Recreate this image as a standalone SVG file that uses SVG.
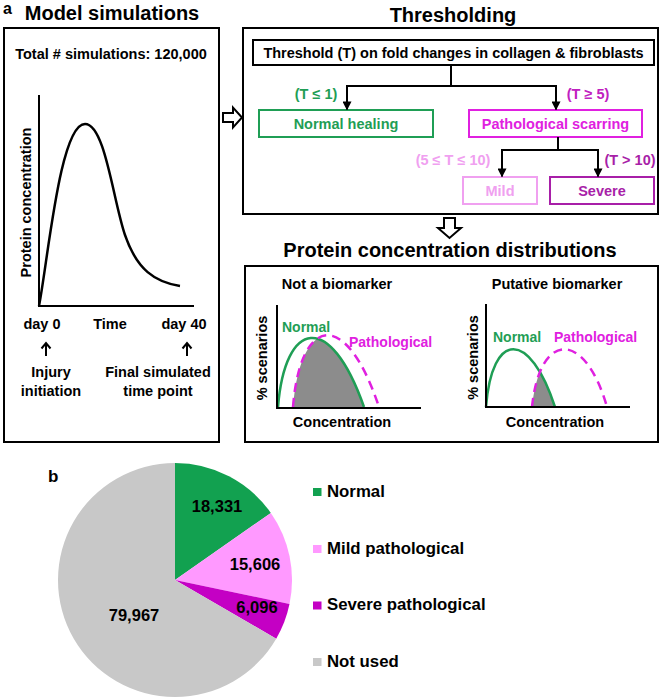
<svg xmlns="http://www.w3.org/2000/svg" width="661" height="699" viewBox="0 0 661 699">
<style>
text{font-family:"Liberation Sans",Arial,sans-serif;font-weight:bold;fill:#000}
.t{font-size:20px;text-anchor:middle}
.s{font-size:14.5px;text-anchor:middle}
.c{font-size:14px}
.pl{font-size:16.5px;text-anchor:middle}
.lg{font-size:16.8px}
.box{fill:none;stroke:#000;stroke-width:2}
.ln{fill:none;stroke:#000;stroke-width:2}
.ar{fill:none;stroke:#000;stroke-width:2;marker-end:url(#ah)}
.hol{fill:#fff;stroke:#000;stroke-width:2;stroke-linejoin:miter}
.grn{fill:none;stroke:#1f9e55;stroke-width:2.5}
.mag{fill:none;stroke:#e020e0;stroke-width:2.5;stroke-dasharray:9 6}
</style>
<defs>
<marker id="ah" viewBox="0 0 10 10" refX="9" refY="5" markerWidth="4.5" markerHeight="4.5" orient="auto" markerUnits="strokeWidth">
<path d="M0,0 L10,5 L0,10 Z" fill="#000"/>
</marker>
<clipPath id="cg1"><path d="M278,407 C285,320 330,310 364,407 Z"/></clipPath>
<clipPath id="cg2"><path d="M486,407 C492,330 530,330 555,407 Z"/></clipPath>
</defs>

<!-- Panel labels -->
<text x="3" y="14" style="font-size:16px">a</text>
<text x="48" y="482" style="font-size:17px">b</text>

<!-- Model simulations -->
<g id="model-simulations">
<text class="t" x="112" y="20">Model simulations</text>
<rect class="box" x="4" y="28" width="215" height="414"/>
<text class="s" x="111" y="58.5">Total # simulations: 120,000</text>
<path class="ln" d="M39,95 L39,306 L194,306"/>
<path d="M39,306 C48,260 60,124 85,124 C105,124 113,200 125,235 C137,270 155,282 180,286" fill="none" stroke="#000" stroke-width="2.5"/>
<text class="s" transform="translate(31,202.5) rotate(-90)" x="0" y="0">Protein concentration</text>
<text class="s" x="42" y="329">day 0</text>
<text class="s" x="110" y="329">Time</text>
<text class="s" x="184" y="329">day 40</text>
<path class="ln" d="M46,356 L46,343 M41.5,348.5 L46,343 L50.5,348.5" stroke-width="1.8"/>
<path class="ln" d="M187,356 L187,343 M182.5,348.5 L187,343 L191.5,348.5" stroke-width="1.8"/>
<text class="s" x="51" y="377">Injury</text>
<text class="s" x="51" y="395.5">initiation</text>
<text class="s" x="158" y="377">Final simulated</text>
<text class="s" x="158" y="395.5">time point</text>
</g>

<!-- hollow arrows -->
<g id="hollow-arrows">
<path class="hol" d="M223,113 L233,113 L233,107.5 L242,117.5 L233,127.5 L233,122 L223,122 Z"/>
<path class="hol" d="M444,218 L455,218 L455,228 L461,228 L449.5,238 L438,228 L444,228 Z"/>
</g>

<!-- Thresholding -->
<g id="thresholding">
<text class="t" x="453" y="21.5">Thresholding</text>
<rect class="box" x="243" y="28" width="415" height="186"/>
</g>
<g id="threshold-node">
<rect class="box" x="253" y="40" width="401" height="25"/>
<text class="s" x="453.5" y="57.5">Threshold (T) on fold changes in collagen &amp; fibroblasts</text>
</g>
<g id="normal-healing">
<rect x="259" y="110" width="174" height="27" fill="none" stroke="#1f9e55" stroke-width="2"/>
<text class="s" x="346" y="129" style="fill:#1f9e55">Normal healing</text>
</g>
<g id="pathological-scarring">
<rect x="469" y="110" width="173" height="27" fill="none" stroke="#e020e0" stroke-width="2"/>
<text class="s" x="555.5" y="129" style="fill:#e020e0">Pathological scarring</text>
</g>
<g id="mild">
<rect x="463" y="177" width="74" height="27" fill="none" stroke="#f0a0f0" stroke-width="2"/>
<text class="s" x="500" y="196" style="fill:#f0a0f0">Mild</text>
</g>
<g id="severe">
<rect x="550" y="177" width="104" height="27" fill="none" stroke="#a81fa8" stroke-width="2"/>
<text class="s" x="602" y="196" style="fill:#a81fa8">Severe</text>
</g>
<g id="connectors">
<path class="ln" d="M451,65 L451,86 M347,86 L556,86"/>
<path class="ar" d="M347,85 L347,109.5"/>
<path class="ar" d="M556,85 L556,109.5"/>
<path class="ln" d="M558,137 L558,150 M502,150 L598,150"/>
<path class="ar" d="M502,149 L502,176.5"/>
<path class="ar" d="M598,149 L598,176.5"/>
</g>
<g id="connector-labels">
<text class="s" x="316" y="98.5" style="fill:#1f9e55">(T ≤ 1)</text>
<text class="s" x="588" y="98.5" style="fill:#c020c0">(T ≥ 5)</text>
<text class="s" x="453" y="165" style="fill:#f0a0f0">(5 ≤ T ≤ 10)</text>
<text class="s" x="630" y="165" style="fill:#a81fa8">(T &gt; 10)</text>
</g>

<!-- Protein concentration distributions -->
<g id="distributions">
<text class="t" x="450" y="257">Protein concentration distributions</text>
<rect class="box" x="245" y="266" width="413" height="176"/>
</g>
<g id="not-a-biomarker">
<text class="s" x="337" y="288.5">Not a biomarker</text>
<path d="M293,407 C300,318 345,305 379,407 Z" fill="#8c8c8c" clip-path="url(#cg1)"/>
<path class="grn" d="M278,407 C285,320 330,310 364,407"/>
<path class="mag" d="M293,407 C300,318 345,305 379,407"/>
<path class="ln" d="M277,305 L277,408 L421,408"/>
<text class="s" transform="translate(266.5,358) rotate(-90)" x="0" y="0">% scenarios</text>
<text class="c" x="282" y="332" style="fill:#1f9e55">Normal</text>
<text class="c" x="349" y="347" style="fill:#e020e0">Pathological</text>
<text class="s" x="342" y="427">Concentration</text>
</g>
<g id="putative-biomarker">
<text class="s" x="557" y="288.5">Putative biomarker</text>
<path d="M532,407 C540,330 585,330 607,407 Z" fill="#8c8c8c" clip-path="url(#cg2)"/>
<path class="grn" d="M486,407 C492,330 530,330 555,407"/>
<path class="mag" d="M532,407 C540,330 585,330 607,407"/>
<path class="ln" d="M486,304 L486,407 L630,407"/>
<text class="s" transform="translate(478,357.5) rotate(-90)" x="0" y="0">% scenarios</text>
<text class="c" x="493" y="342" style="fill:#1f9e55">Normal</text>
<text class="c" x="554" y="342" style="fill:#e020e0">Pathological</text>
<text class="s" x="555" y="427">Concentration</text>
</g>

<!-- Pie chart -->
<g id="pie-normal">
<path d="M175,580 L175,463 A117,117 0 0,1 270.84,512.88 Z" fill="#12a150"/>
<text class="pl" x="217" y="512">18,331</text>
</g>
<g id="pie-mild">
<path d="M175,580 L270.84,512.88 A117,117 0 0,1 289.52,603.95 Z" fill="#ff99ff"/>
<text class="pl" x="255" y="570">15,606</text>
</g>
<g id="pie-severe">
<path d="M175,580 L289.52,603.95 A117,117 0 0,1 276.22,638.68 Z" fill="#c400c4"/>
<text class="pl" x="257" y="613">6,096</text>
</g>
<g id="pie-notused">
<path d="M175,580 L276.22,638.68 A117,117 0 1,1 175,463 Z" fill="#c8c8c8"/>
<text class="pl" x="134" y="621">79,967</text>
</g>

<!-- Legend -->
<g id="legend">
<rect x="313" y="488" width="8.5" height="8" fill="#12a150"/>
<text class="lg" x="327" y="497">Normal</text>
<rect x="313" y="545" width="8.5" height="8" fill="#ff99ff"/>
<text class="lg" x="327" y="553.5">Mild pathological</text>
<rect x="313" y="601.5" width="8.5" height="8" fill="#c400c4"/>
<text class="lg" x="327" y="610">Severe pathological</text>
<rect x="313" y="658" width="8.5" height="8" fill="#c8c8c8"/>
<text class="lg" x="327" y="667">Not used</text>
</g>
</svg>
